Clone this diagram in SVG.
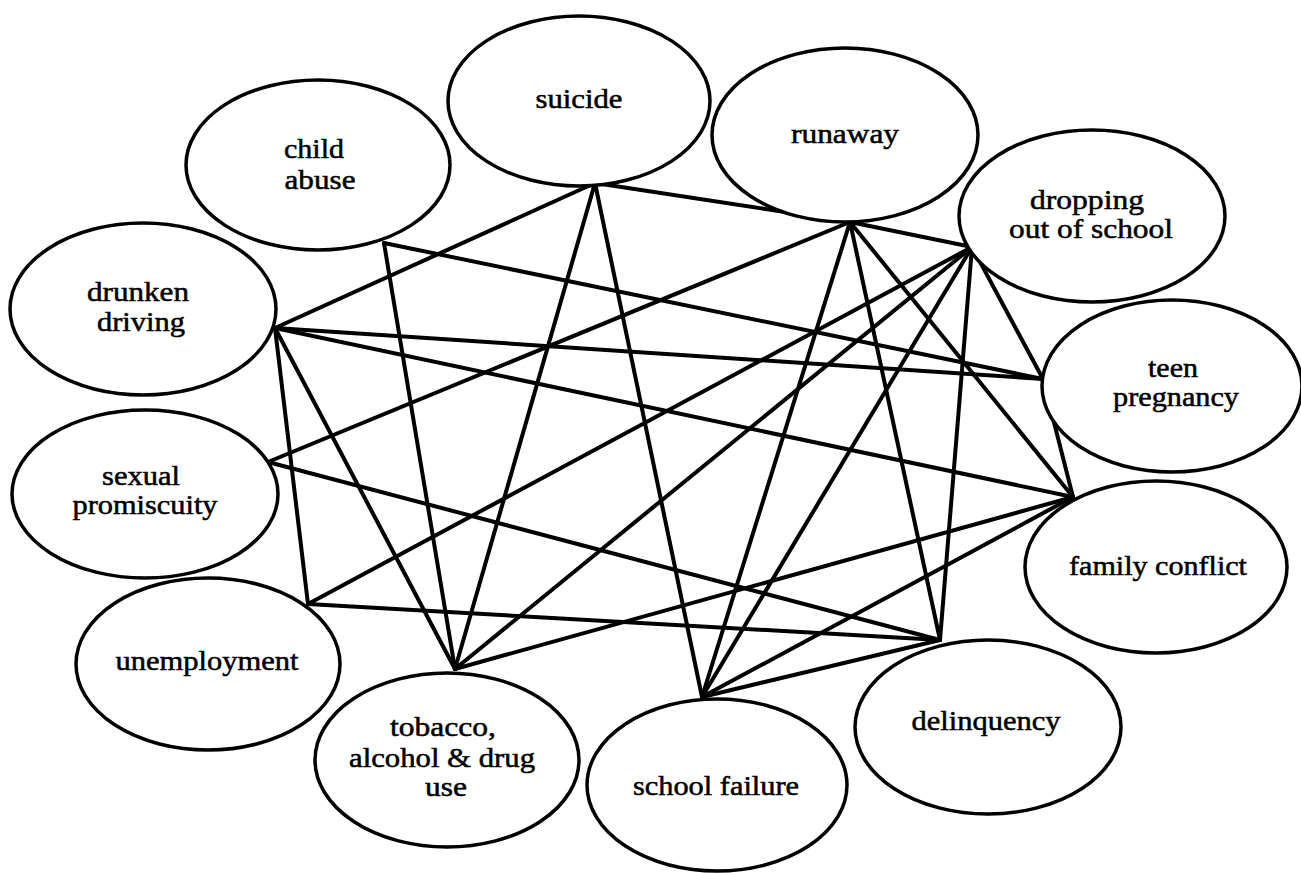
<svg xmlns="http://www.w3.org/2000/svg" width="1301" height="873" viewBox="0 0 1301 873">
<style>
.node ellipse{fill:#fff;stroke:#000;stroke-width:3.5}
.node text{font-family:"Liberation Serif","Times New Roman",serif;font-size:26.5px;fill:#000;stroke:#000;stroke-width:0.5;text-anchor:middle}
#connectors line{stroke:#000;stroke-width:4;stroke-linecap:round}
</style>
<rect width="1301" height="873" fill="#fff"/>
<g id="connectors">
<line x1="595" y1="183" x2="275" y2="328"/>
<line x1="595" y1="183" x2="455" y2="669"/>
<line x1="595" y1="183" x2="702" y2="697"/>
<line x1="595" y1="183" x2="850" y2="222"/>
<line x1="384" y1="243" x2="455" y2="669"/>
<line x1="384" y1="243" x2="1043" y2="379"/>
<line x1="275" y1="328" x2="1043" y2="379"/>
<line x1="275" y1="328" x2="1073" y2="497"/>
<line x1="275" y1="328" x2="308" y2="604"/>
<line x1="275" y1="328" x2="455" y2="669"/>
<line x1="268" y1="462" x2="850" y2="222"/>
<line x1="268" y1="462" x2="940" y2="640"/>
<line x1="308" y1="604" x2="972" y2="247"/>
<line x1="308" y1="604" x2="940" y2="640"/>
<line x1="455" y1="669" x2="972" y2="247"/>
<line x1="455" y1="669" x2="1073" y2="497"/>
<line x1="702" y1="697" x2="850" y2="222"/>
<line x1="702" y1="697" x2="972" y2="247"/>
<line x1="702" y1="697" x2="1073" y2="497"/>
<line x1="702" y1="697" x2="940" y2="640"/>
<line x1="850" y1="222" x2="972" y2="247"/>
<line x1="850" y1="222" x2="940" y2="640"/>
<line x1="850" y1="222" x2="1073" y2="497"/>
<line x1="972" y1="247" x2="940" y2="640"/>
<line x1="972" y1="247" x2="1043" y2="379"/>
<line x1="1043" y1="379" x2="1073" y2="497"/>
</g>
<g id="child-abuse" class="node"><ellipse cx="318" cy="165" rx="132" ry="85"/><text x="314" y="158" textLength="60" lengthAdjust="spacingAndGlyphs">child</text><text x="320" y="189" textLength="71" lengthAdjust="spacingAndGlyphs">abuse</text></g>
<g id="suicide" class="node"><ellipse cx="579" cy="101" rx="131" ry="85"/><text x="579" y="108" textLength="87" lengthAdjust="spacingAndGlyphs">suicide</text></g>
<g id="runaway" class="node"><ellipse cx="845" cy="135" rx="133" ry="87"/><text x="845" y="143" textLength="108" lengthAdjust="spacingAndGlyphs">runaway</text></g>
<g id="dropping-out" class="node"><ellipse cx="1092" cy="216" rx="133" ry="86"/><text x="1087" y="209" textLength="114" lengthAdjust="spacingAndGlyphs">dropping</text><text x="1091" y="238" textLength="164" lengthAdjust="spacingAndGlyphs">out of school</text></g>
<g id="drunken-driving" class="node"><ellipse cx="143" cy="309" rx="133" ry="86"/><text x="138" y="301" textLength="102" lengthAdjust="spacingAndGlyphs">drunken</text><text x="141" y="331" textLength="88" lengthAdjust="spacingAndGlyphs">driving</text></g>
<g id="teen-pregnancy" class="node"><ellipse cx="1172" cy="386" rx="130" ry="86"/><text x="1173" y="377" textLength="50" lengthAdjust="spacingAndGlyphs">teen</text><text x="1176" y="406" textLength="126" lengthAdjust="spacingAndGlyphs">pregnancy</text></g>
<g id="sexual-promiscuity" class="node"><ellipse cx="145" cy="494" rx="133" ry="84"/><text x="141" y="485" textLength="78" lengthAdjust="spacingAndGlyphs">sexual</text><text x="145" y="514" textLength="145" lengthAdjust="spacingAndGlyphs">promiscuity</text></g>
<g id="family-conflict" class="node"><ellipse cx="1156" cy="567" rx="131" ry="86"/><text x="1158" y="575" textLength="178" lengthAdjust="spacingAndGlyphs">family conflict</text></g>
<g id="unemployment" class="node"><ellipse cx="208" cy="664" rx="132" ry="86"/><text x="207" y="670" textLength="183" lengthAdjust="spacingAndGlyphs">unemployment</text></g>
<g id="delinquency" class="node"><ellipse cx="988" cy="727" rx="133" ry="87"/><text x="986" y="730" textLength="149" lengthAdjust="spacingAndGlyphs">delinquency</text></g>
<g id="tobacco" class="node"><ellipse cx="447" cy="760" rx="132" ry="87"/><text x="443" y="736" textLength="106" lengthAdjust="spacingAndGlyphs">tobacco,</text><text x="442" y="767" textLength="186" lengthAdjust="spacingAndGlyphs">alcohol &amp; drug</text><text x="446" y="796" textLength="42" lengthAdjust="spacingAndGlyphs">use</text></g>
<g id="school-failure" class="node"><ellipse cx="717" cy="785" rx="130" ry="86"/><text x="716" y="795" textLength="166" lengthAdjust="spacingAndGlyphs">school failure</text></g>
</svg>
